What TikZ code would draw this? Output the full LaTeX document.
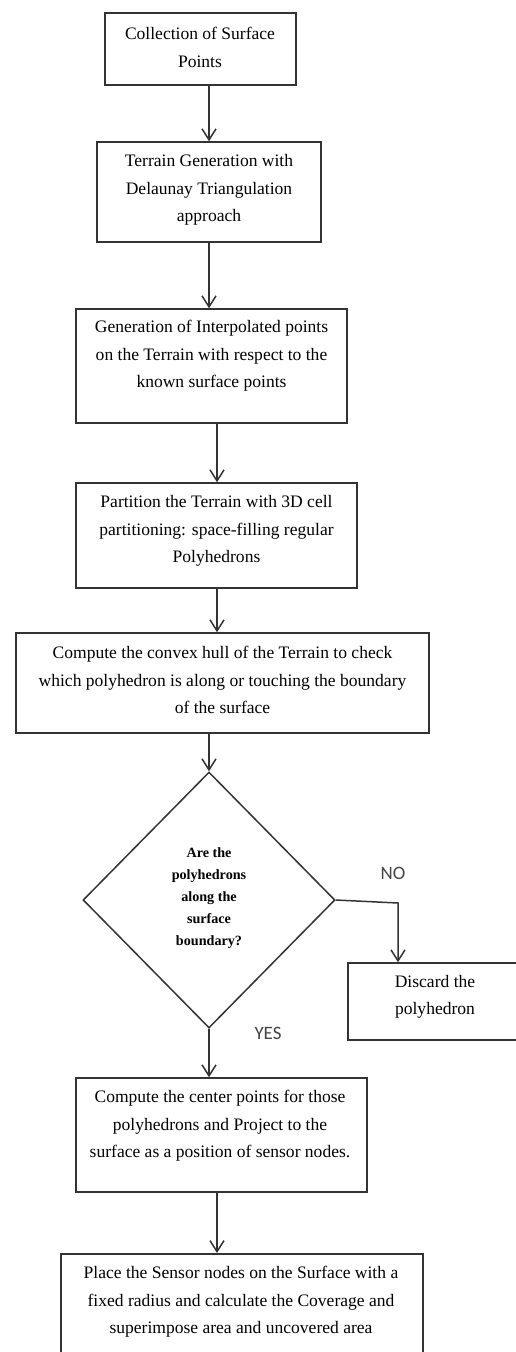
\documentclass[tikz,border=0pt]{standalone}
\usepackage{fontspec}
\setmainfont{Liberation Serif}
\newfontfamily\yesnofont{Carlito}
\usetikzlibrary{shapes.geometric,arrows.meta}
\definecolor{linecol}{HTML}{333333}
\definecolor{labcol}{HTML}{444444}
\tikzset{
  boxshape/.style={draw=linecol, line width=1.5bp, rectangle, inner sep=0pt},
  txt/.style={align=center, inner sep=0pt, font=\fontsize{17.6}{27.5}\selectfont},
  dtxt/.style={align=center, inner sep=0pt, font=\fontsize{14.2}{22}\selectfont\bfseries},
  yn/.style={inner sep=0pt, text=labcol, font=\fontsize{19}{22}\selectfont\yesnofont},
  arr/.style={draw=linecol, line width=1.5bp, -{Straight Barb[length=11bp,width=14bp,line width=1.5bp]}}
}
\begin{document}
\begin{tikzpicture}[x=1bp,y=-1bp]
\useasboundingbox (0,0) rectangle (516,1352);
\clip (0,0) rectangle (516,1352);
\fill[white] (0,0) rectangle (516,1352);

% boxes
\node[boxshape, minimum width=191bp, minimum height=72bp] (b1) at (200.5,49) {};
\node[txt] (t1) at (200,47.5) {Collection of Surface\\Points};

\node[boxshape, minimum width=224bp, minimum height=100bp] (b2) at (209,192) {};
\node[txt] (t2) at (209,190) {Terrain Generation with\\Delaunay Triangulation\\approach};

\node[boxshape, minimum width=271bp, minimum height=114bp] (b3) at (211.5,366) {};
\node[txt] (t3) at (211.5,356) {Generation of Interpolated points\\on the Terrain with respect to the\\known surface points};

\node[boxshape, minimum width=281bp, minimum height=105bp] (b4) at (216.5,535.5) {};
\node[txt] (t4) at (216.5,531) {Partition the Terrain with 3D cell\\partitioning: space-filling regular\\Polyhedrons};

\node[boxshape, minimum width=413bp, minimum height=100bp] (b5) at (222.5,683) {};
\node[txt] (t5) at (222.5,680) {Compute the convex hull of the Terrain to check\\which polyhedron is along or touching the boundary\\of the surface};

\node[boxshape, diamond, minimum width=252bp, minimum height=256bp] (d) at (209,900) {};
\node[dtxt] (td) at (209,898) {Are the\\polyhedrons\\along the\\surface\\boundary?};

\node[boxshape, minimum width=190bp, minimum height=77bp, anchor=west] (b6) at (347,1001.5) {};
\node[txt] (t6) at (435,996.5) {Discard the\\polyhedron};

\node[boxshape, minimum width=291bp, minimum height=114bp] (b7) at (221.5,1135) {};
\node[txt] (t7) at (220,1126) {Compute the center points for those\\polyhedrons and Project to the\\surface as a position of sensor nodes.};

\node[boxshape, minimum width=362bp, minimum height=120bp, anchor=north] (b8) at (242,1253) {};
\node[txt] (t8) at (241,1302) {Place the Sensor nodes on the Surface with a\\fixed radius and calculate the Coverage and\\superimpose area and uncovered area};

% labels
\node[yn] (no) at (393,873) {NO};
\node[yn] (yes) at (268,1033) {YES};

% helper coordinates
\coordinate (a1) at (209,0);
\coordinate (a3) at (217,0);
\coordinate (a7) at (217,0);
\coordinate (nc) at (398,903);

% connectors
\draw[arr] (b1.south -| a1) -- (b2.north -| a1);
\draw[arr] (b2.south -| a1) -- (b3.north -| a1);
\draw[arr] (b3.south -| a3) -- (b4.north -| a3);
\draw[arr] (b4.south -| a3) -- (b5.north -| a3);
\draw[arr] (b5.south -| d.north) -- (d.north);
\draw[arr] (d.east) -- (nc) -- (nc |- b6.north);
\draw[arr] (d.south) -- (d.south |- b7.north);
\draw[arr] (b7.south -| a7) -- (b8.north -| a7);
\end{tikzpicture}
\end{document}
